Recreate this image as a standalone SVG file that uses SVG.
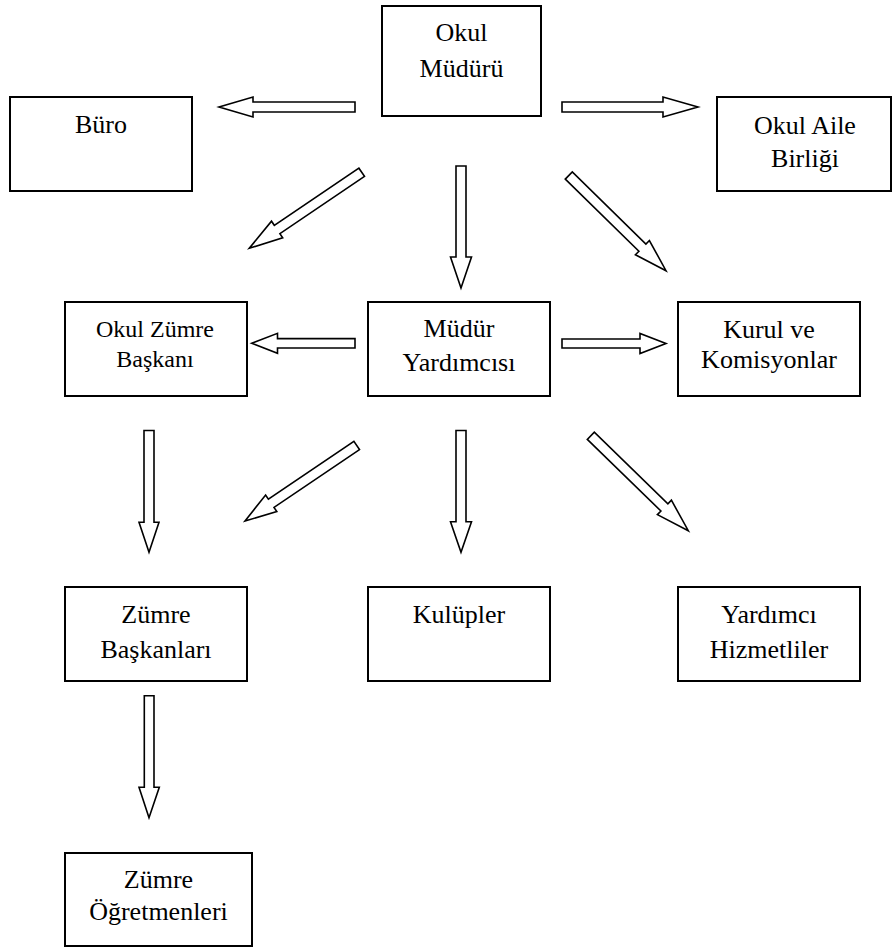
<svg xmlns="http://www.w3.org/2000/svg" width="892" height="949" viewBox="0 0 892 949">
<style>
.box{fill:#fff;stroke:#000;stroke-width:2}
.arr{fill:#fff;stroke:#000;stroke-width:1.6;stroke-linejoin:miter}
text{font-family:"Liberation Serif","Times New Roman",serif;font-size:26px;fill:#000;text-anchor:middle}
.sm{font-size:24px}
</style>
<rect width="892" height="949" fill="#fff"/>
<g id="connectors">
<polygon class="arr" points="355,102 253,102 253,97 219,107 253,117 253,112 355,112"/>
<polygon class="arr" points="562,102 663,102 663,97 698,107 663,117 663,112 562,112"/>
<polygon class="arr" points="456,166 466,166 466,257 471.5,257 461,288 450.5,257 456,257"/>
<polygon class="arr" points="364.5,176.4 279.9,233.6 282.7,237.8 249.3,248.3 271.5,221.2 274.3,225.3 358.9,168.2"/>
<polygon class="arr" points="565.3,179.1 638.9,251.2 635.4,254.8 666,270.7 649.4,240.5 645.9,244 572.3,171.9"/>
<polygon class="arr" points="355,338.6 277.5,338.6 277.5,333.3 251.7,343.3 277.5,353.3 277.5,348 355,348"/>
<polygon class="arr" points="562,339 640,339 640,333.5 666,343.5 640,353.5 640,348 562,348"/>
<polygon class="arr" points="144,430.5 154,430.5 154,522.3 159,522.3 149,552.3 139,522.3 144,522.3"/>
<polygon class="arr" points="359.5,449.6 274,507.4 276.8,511.6 245,521 265.6,495 268.4,499.2 353.9,441.4"/>
<polygon class="arr" points="456,430.5 466,430.5 466,521.7 471.5,521.7 461,552.3 450.5,521.7 456,521.7"/>
<polygon class="arr" points="587.3,439.4 660.9,511 657.4,514.6 688.3,530.7 671.4,500.2 667.9,503.8 594.3,432.2"/>
<polygon class="arr" points="144.3,695.7 154,695.7 154,787.3 159.3,787.3 149,817.7 139,787.3 144.3,787.3"/>
</g>
<g id="okul-muduru">
<rect class="box" x="382" y="6" width="159" height="110"/>
<text x="461.5" y="40.7">Okul</text>
<text x="461.5" y="76.7">Müdürü</text>
</g>
<g id="buro">
<rect class="box" x="10" y="97" width="182" height="94"/>
<text x="101" y="133.3">Büro</text>
</g>
<g id="okul-aile-birligi">
<rect class="box" x="717" y="97" width="174" height="94"/>
<text x="805" y="134.3">Okul Aile</text>
<text x="805" y="166.7">Birliği</text>
</g>
<g id="okul-zumre-baskani">
<rect class="box" x="65" y="302" width="182" height="94"/>
<text class="sm" x="155" y="336.7">Okul Zümre</text>
<text class="sm" x="155" y="366.7">Başkanı</text>
</g>
<g id="mudur-yardimcisi">
<rect class="box" x="368" y="302" width="182" height="94"/>
<text x="459" y="336.7">Müdür</text>
<text x="459" y="371">Yardımcısı</text>
</g>
<g id="kurul-ve-komisyonlar">
<rect class="box" x="678" y="302" width="182" height="94"/>
<text x="769" y="337.7">Kurul ve</text>
<text x="769" y="368.3">Komisyonlar</text>
</g>
<g id="zumre-baskanlari">
<rect class="box" x="65" y="587" width="182" height="94"/>
<text x="156" y="623.3">Zümre</text>
<text x="156" y="658.3">Başkanları</text>
</g>
<g id="kulupler">
<rect class="box" x="368" y="587" width="182" height="94"/>
<text x="459" y="623.3">Kulüpler</text>
</g>
<g id="yardimci-hizmetliler">
<rect class="box" x="678" y="587" width="182" height="94"/>
<text x="769" y="623.3">Yardımcı</text>
<text x="769" y="658.3">Hizmetliler</text>
</g>
<g id="zumre-ogretmenleri">
<rect class="box" x="65" y="853" width="187" height="93"/>
<text x="158.5" y="888.3">Zümre</text>
<text x="158.5" y="920">Öğretmenleri</text>
</g>
</svg>
